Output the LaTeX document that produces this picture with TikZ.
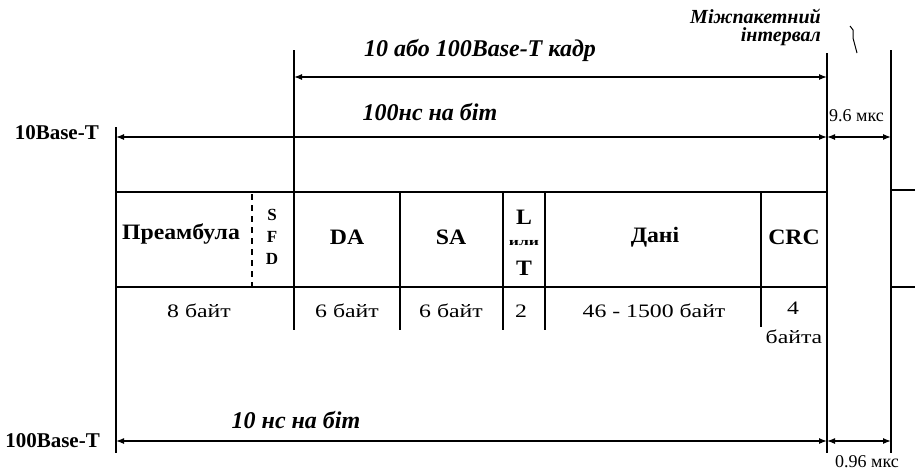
\documentclass[tikz,border=0pt]{standalone}
\usepackage{fontspec}
\setmainfont{Liberation Serif}
\newfontfamily\widefont[FakeStretch=1.25]{Liberation Serif}
\newfontfamily\boldwide[FakeStretch=1.08]{Liberation Serif}
\newfontfamily\xwide[FakeStretch=1.6]{Liberation Serif}
\usetikzlibrary{arrows.meta}
\begin{document}
\begin{tikzpicture}[x=1pt,y=-1pt,
  dim/.style={line width=1.3pt,{Latex[length=8pt,width=6pt]}-{Latex[length=8pt,width=6pt]}},
  thin/.style={line width=1.3pt},
  thick box/.style={line width=2.6pt},
  hdr/.style={font=\bfseries\itshape\fontsize{24}{28}\selectfont, inner sep=0pt},
  base/.style={font=\bfseries\fontsize{21}{24}\selectfont, inner sep=0pt},
  fld/.style={font=\boldwide\bfseries\fontsize{22}{25}\selectfont, inner sep=0pt},
  sfd/.style={font=\bfseries\fontsize{17}{20}\selectfont, inner sep=0pt},
  sz/.style={font=\widefont\fontsize{19}{22}\selectfont, inner sep=0pt},
  small/.style={font=\fontsize{18}{20}\selectfont, inner sep=0pt}]
\useasboundingbox (0,0) rectangle (917,475);
\fill[white] (0,0) rectangle (917,475);
% coordinates
\coordinate (L0) at (116,127);  \coordinate (L1) at (116,453);
\coordinate (F0) at (294,50);   \coordinate (F1) at (294,330);
\coordinate (E0) at (827,53);   \coordinate (E1) at (827,453);
\coordinate (G0) at (891,50);   \coordinate (G1) at (891,453);
% vertical guide lines
\draw[thin] (L0) -- (L1);
\draw[thin] (F0) -- (F1);
\draw[thin] (E0) -- (E1);
\draw[thin] (G0) -- (G1);
% lower row separators
\foreach \x/\b in {400/330,503/330,545/330,761/327}
  \draw[thin] (\x,287) -- (\x,\b);
% packet box
\draw[thick box] (116,192) rectangle (827,287);
\foreach \x in {294,400,503,545,761}
  \draw[thick box] (\x,192) -- (\x,287);
\draw[line width=1.3pt, dash pattern=on 6pt off 5pt] (252,194) -- (252,287);
% next packet fragment
\draw[thick box] (915,190) -- (891,190) -- (891,287) -- (915,287);
% dimension arrows
\coordinate (fa) at (294,77);  \coordinate (fb) at (827,77);
\draw[dim] (fa) -- (fb);
\coordinate (ta) at (116,137); \coordinate (tb) at (827,137); \coordinate (tc) at (891,137);
\draw[dim] (ta) -- (tb);
\draw[dim] (tb) -- (tc);
\coordinate (ha) at (116,441); \coordinate (hb) at (827,441); \coordinate (hc) at (891,441);
\draw[dim] (ha) -- (hb);
\draw[dim] (hb) -- (hc);
% squiggle pointer
\draw[line width=1pt] (850,26) -- (853,30) -- (853,38) -- (857,53);
% texts
\node[base, anchor=east] (t10) at (99,133) {10Base-T};
\node[base, anchor=east] (t100) at (100,441) {100Base-T};
\node[hdr] (frame) at (480,50) {10 або 100Base-T кадр};
\node[hdr] (ns100) at (430,112) {100нс на біт};
\node[hdr] (ns10) at (296,420) {10 нс на біт};
\node[hdr, font=\bfseries\itshape\fontsize{20}{22}\selectfont, anchor=east] (ipg1) at (821,16) {Міжпакетний};
\node[hdr, font=\bfseries\itshape\fontsize{20}{22}\selectfont, anchor=east] (ipg2) at (821,37) {інтервал};
\node[small, anchor=west] (g96) at (829,116) {9.6 мкс};
\node[small, anchor=west] (g096) at (835,462) {0.96 мкс};
% field names
\node[fld] (pre) at (181,234) {Преамбула};
\node[sfd] (s) at (272,215) {S};
\node[sfd] (f) at (272,237) {F};
\node[sfd] (d) at (272,259) {D};
\node[fld] (da) at (347,237) {DA};
\node[fld] (sa) at (451,237) {SA};
\node[fld] (l) at (524,217) {L};
\node[font=\xwide\bfseries\fontsize{11}{12}\selectfont, inner sep=0pt] (ili) at (524,243) {или};
\node[fld] (t) at (524,268) {T};
\node[fld] (data) at (655,237) {Дані};
\node[fld] (crc) at (794,237) {CRC};
% sizes
\node[sz] (s8) at (199,311) {8 байт};
\node[sz] (s6a) at (347,311) {6 байт};
\node[sz] (s6b) at (451,311) {6 байт};
\node[sz] (s2) at (521,311) {2};
\node[sz] (s46) at (654,311) {46 - 1500 байт};
\node[sz] (s4) at (793,308) {4};
\node[sz] (s4b) at (794,337) {байта};
\end{tikzpicture}
\end{document}
